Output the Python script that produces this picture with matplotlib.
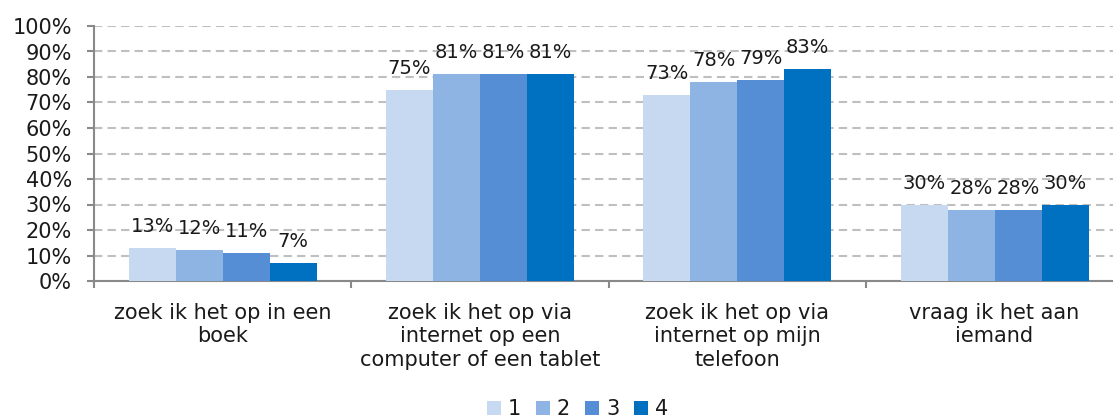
import matplotlib
matplotlib.use("Agg")
import matplotlib.pyplot as plt
import numpy as np

categories = ["zoek ik het op in een\nboek",
              "zoek ik het op via\ninternet op een\ncomputer of een tablet",
              "zoek ik het op via\ninternet op mijn\ntelefoon",
              "vraag ik het aan\niemand"]
series_names = ["1", "2", "3", "4"]
s1 = [13, 75, 73, 30]
s2 = [12, 81, 78, 28]
s3 = [11, 81, 79, 28]
s4 = [7, 81, 83, 30]
series = [s1, s2, s3, s4]
colors = ["#C6D9F1", "#8EB4E3", "#558ED5", "#0070C0"]
yticks = [0, 10, 20, 30, 40, 50, 60, 70, 80, 90, 100]

plt.rcParams['font.family'] = ['DejaVu Sans']
W, H = 1113, 419
fig = plt.figure(figsize=(W / 100, H / 100), dpi=100)
x0, x1 = 94, 94 + 4 * 257.3
ytop, ybot = 26, 281
ax = fig.add_axes([x0 / W, (H - ybot) / H, (x1 - x0) / W, (ybot - ytop) / H])

x = np.arange(len(categories))
bw = 0.1827
for i, (vals, c, name) in enumerate(zip(series, colors, series_names)):
    pos = x + (i - 1.5) * bw
    ax.bar(pos, vals, width=bw, color=c, label=name, zorder=3, linewidth=0)
    for p, v in zip(pos, vals):
        ax.annotate(f"{v}%", (p, v), xytext=(0, 11.5), textcoords="offset points",
                    ha="center", va="baseline", fontsize=14, color="#1a1a1a", zorder=4)

ax.set_xlim(-0.5, 3.5)
ax.set_ylim(0, 100)
ax.set_yticks(yticks)
ax.set_yticklabels([f"{t}%" for t in yticks], fontsize=15, color="#1a1a1a")
ax.set_xticks(np.arange(-0.5, 4.0, 1.0))
ax.set_xticklabels([])
ax.set_xticks(x, minor=True)
ax.set_xticklabels(categories, minor=True, fontsize=15, color="#1a1a1a")
ax.tick_params(axis="x", which="minor", length=0, pad=16)
ax.tick_params(axis="x", which="major", length=5, width=1.5, color="#898989", direction="out")
ax.tick_params(axis="y", length=5, width=1.5, color="#898989", direction="out", pad=11)

ax.grid(axis="y", color="#BFBFBF", linewidth=1.5, linestyle=(0, (4, 2.5)), zorder=0)
ax.set_axisbelow(True)
for s in ["top", "right"]:
    ax.spines[s].set_visible(False)
for s in ["left", "bottom"]:
    ax.spines[s].set_color("#898989")
    ax.spines[s].set_linewidth(1.5)

leg = fig.legend(loc="center", bbox_to_anchor=(577.5 / W, (H - 409) / H),
                 ncol=4, frameon=False, fontsize=15,
                 handlelength=0.67, handleheight=0.67, handletextpad=0.35,
                 columnspacing=0.7, borderaxespad=0, borderpad=0)
for t in leg.get_texts():
    t.set_color("#1a1a1a")

fig.savefig("out.png", dpi=100)
